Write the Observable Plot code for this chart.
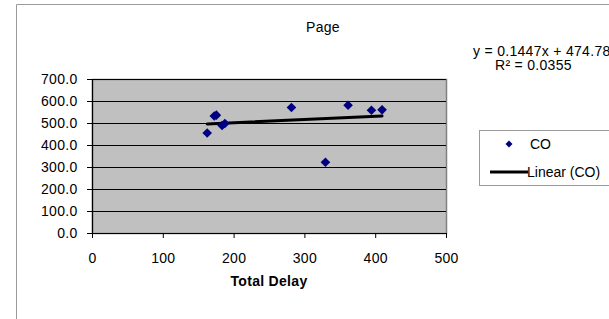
<!DOCTYPE html>
<html>
<head>
<meta charset="utf-8">
<script src="https://cdn.jsdelivr.net/npm/d3@7"></script>
<script src="https://cdn.jsdelivr.net/npm/@observablehq/plot@0.6"></script>
<style>
  html, body { margin: 0; padding: 0; background: #fff; }
  svg { font-family: "Liberation Sans", Arial, sans-serif; }
</style>
</head>
<body>
<div id="chart"></div>
<script>
// Data
const totalDelay = [162, 172, 175, 183, 187, 281, 329, 361, 394, 409];
const coValues   = [457, 534, 538, 491, 500, 573, 324, 583, 560, 562];
const trendSlope = 0.1447;
const trendIntercept = 474.78;
const rSquared = 0.0355;
const xTicks = [0, 100, 200, 300, 400, 500];
const yTicks = [0, 100, 200, 300, 400, 500, 600, 700];
const title = "Page";
const xLabel = "Total Delay";
const seriesName = "CO";
const trendName = "Linear (CO)";

const points = totalDelay.map((x, i) => ({x, y: coValues[i]}));
const xMin = d3.min(totalDelay), xMax = d3.max(totalDelay);
const trend = [xMin, xMax].map(x => ({x, y: trendSlope * x + trendIntercept}));

// square diamond symbol
const squareDiamond = {
  draw(ctx, size) {
    const h = Math.sqrt(size / Math.PI);
    ctx.moveTo(0, -h); ctx.lineTo(h, 0); ctx.lineTo(0, h); ctx.lineTo(-h, 0); ctx.closePath();
  }
};

const W = 609, H = 319;
const plot = Plot.plot({
  width: W,
  height: H,
  marginLeft: 92,
  marginRight: 163,
  marginTop: 79,
  marginBottom: 86,
  style: {fontFamily: '"Liberation Sans", Arial, sans-serif', fontSize: "14px", background: "#fff", color: "#000", letterSpacing: "0.3px"},
  x: {domain: [0, 500], ticks: xTicks, label: null},
  y: {domain: [0, 700], ticks: yTicks, label: null, tickFormat: d3.format(".1f")},
  marks: [
    Plot.frame({fill: "#c0c0c0", stroke: "#808080", strokeWidth: 1.5}),
    Plot.ruleY(yTicks, {stroke: "#000", strokeWidth: 1}),
    Plot.ruleX([0], {stroke: "#000", strokeWidth: 1.2}),
    Plot.ruleY([0], {stroke: "#000", strokeWidth: 1.2}),
    Plot.axisY({ticks: yTicks, tickSize: 5, tickPadding: 10, tickFormat: d3.format(".1f"), stroke: "#000", label: null, fontSize: 14}),
    Plot.axisX({ticks: xTicks, tickSize: 5, tickPadding: 15, stroke: "#000", label: null, fontSize: 14}),
    Plot.line(trend, {x: "x", y: "y", stroke: "#000", strokeWidth: 3}),
    Plot.dot(points, {x: "x", y: "y", symbol: squareDiamond, fill: "#000080", stroke: "none", r: 4.8})
  ]
});
document.getElementById("chart").appendChild(plot);

const svg = d3.select(plot);
// chart area border
svg.append("path").attr("d", `M16.5,${H} L16.5,4.5 L${W},4.5`).attr("fill", "none").attr("stroke", "#9a9a9a").attr("stroke-width", 1);
// title
svg.append("text").attr("x", 323).attr("y", 32).attr("text-anchor", "middle").attr("font-size", 14).text(title);
// x label
svg.append("text").attr("x", 269).attr("y", 285.5).attr("text-anchor", "middle").attr("font-size", 14).attr("font-weight", "bold").text(xLabel);
// trend equation
svg.append("text").attr("x", 473).attr("y", 55.5).attr("text-anchor", "start").attr("font-size", 14)
  .text(`y = ${trendSlope}x + ${trendIntercept}`);
svg.append("text").attr("x", 495).attr("y", 70).attr("text-anchor", "start").attr("font-size", 14)
  .text(`R² = ${rSquared}`);
// legend
const lg = svg.append("g").attr("letter-spacing", "0px");
lg.append("rect").attr("x", 479.5).attr("y", 130.5).attr("width", 140).attr("height", 55).attr("fill", "#fff").attr("stroke", "#9a9a9a");
lg.append("path").attr("d", "M0,-3.5L3.5,0L0,3.5L-3.5,0Z").attr("transform", "translate(509,144)").attr("fill", "#000080");
lg.append("text").attr("x", 530).attr("y", 148.5).attr("text-anchor", "start").attr("font-size", 14).text(seriesName);
lg.append("line").attr("x1", 490).attr("x2", 528).attr("y1", 172).attr("y2", 172).attr("stroke", "#000").attr("stroke-width", 3);
lg.append("text").attr("x", 527).attr("y", 177).attr("text-anchor", "start").attr("font-size", 14).text(trendName);
</script>
</body>
</html>
